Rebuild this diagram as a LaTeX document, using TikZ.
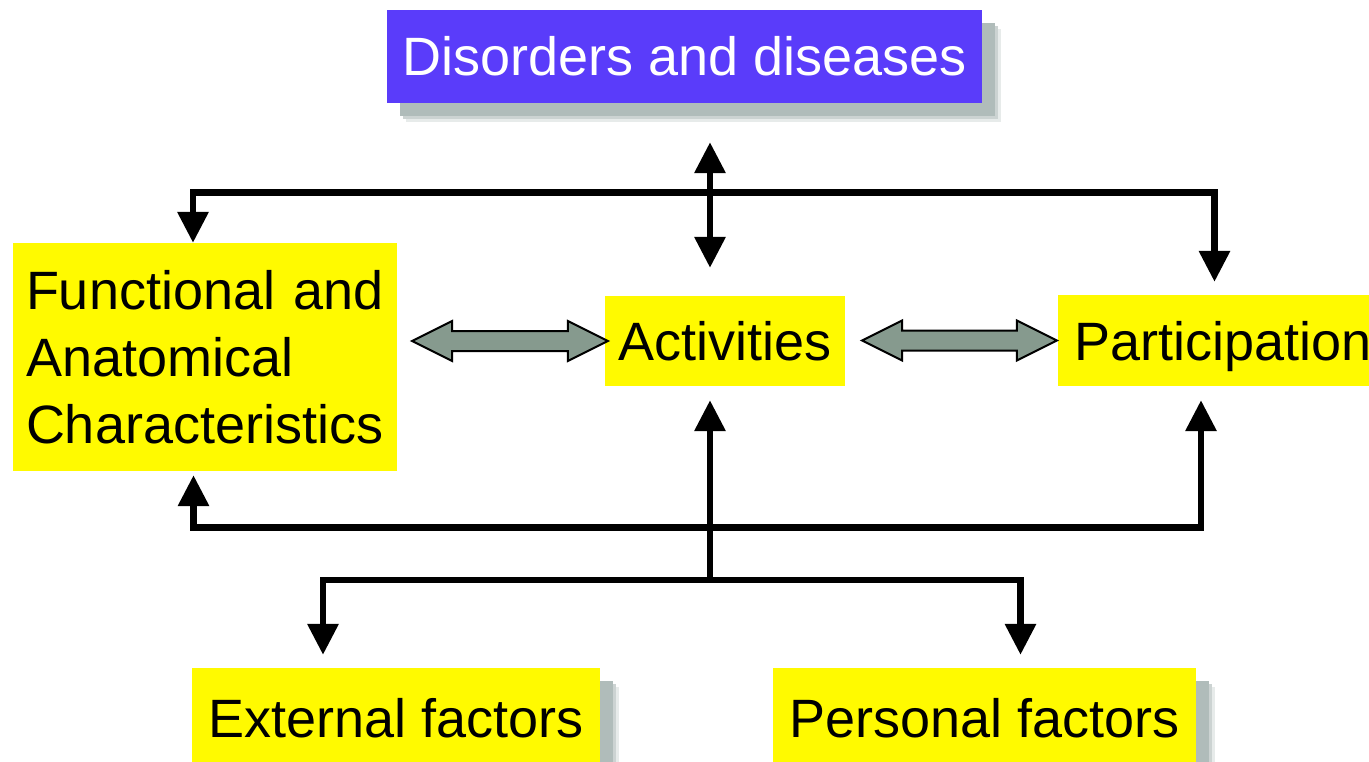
\documentclass[tikz,border=0pt]{standalone}
\usepackage{fontspec}
\setmainfont{Liberation Sans}
\usepackage{tikz}
\usetikzlibrary{arrows.meta, positioning, calc, shadows}
\usepackage{xcolor}
\definecolor{disorderblue}{RGB}{90,60,250}
\definecolor{factoryellow}{RGB}{255,250,0}
\definecolor{linkgray}{RGB}{134,154,142}
\definecolor{shadowgray}{RGB}{176,188,186}
\tikzset{%
	every factor/.style={
		fill=factoryellow,
		inner sep=0pt,
		font=\fontsize{54}{67}\selectfont
	},
	one line/.style={
		text height=39pt,
		text depth=0pt
	},
	soft shadow/.style={
		drop shadow={shadow xshift=19pt, shadow yshift=-19pt, fill=shadowgray!30, opacity=1},
		drop shadow={shadow xshift=16pt, shadow yshift=-16pt, fill=shadowgray!65, opacity=1},
		drop shadow={shadow xshift=13pt, shadow yshift=-13pt, fill=shadowgray, opacity=1}
	},
	link arrow/.style={
		draw=black,
		line width=2pt,
		fill=linkgray
	},
	bus/.style={
		line width=6.5pt
	},
}
\newcommand{\linkarrow}[2]{%
	\draw[link arrow] let \p1=(#1), \p2=(#2) in
	(\x1,\y2) -- (\x1+40pt,\y2+20pt) -- (\x1+40pt,\y2+10pt) -- (\x2-40pt,\y2+10pt)
	-- (\x2-40pt,\y2+20pt) -- (\x2,\y2) -- (\x2-40pt,\y2-20pt) -- (\x2-40pt,\y2-10pt)
	-- (\x1+40pt,\y2-10pt) -- (\x1+40pt,\y2-20pt) -- cycle;}

\begin{document}
\begin{tikzpicture}[
			x=1pt, y=-1pt,
			>={Triangle[length=31pt, width=30pt]}
			]
			\useasboundingbox (0,0) rectangle (1369,762);
			\clip (0,0) rectangle (1369,762);
			
			% Nodes of the diagram
			\node[every factor, one line, soft shadow, fill=disorderblue, text=white,
				minimum width=595pt, minimum height=93pt] (dis) at (684.5,56.5) {Disorders and diseases};
			\node[every factor, minimum width=384pt, minimum height=228pt,
				text width=358pt, align=left] (func) at (205,357) {Functional and\\Anatomical\\Characteristics};
			\node[every factor, one line, minimum width=240pt, minimum height=90pt] (act) at (725,341) {Activities};
			\node[every factor, one line, minimum width=330pt, minimum height=91pt] (part) at (1223,340.5) {Participation};
			\node[every factor, one line, soft shadow, minimum width=408pt, minimum height=100pt] (ext) at (396,718) {External factors};
			\node[every factor, one line, soft shadow, minimum width=423pt, minimum height=100pt] (pers) at (984.5,718) {Personal factors};
			
			% Junction points
			\coordinate (topL) at (193,192.5);
			\coordinate (topR) at (1214.5,192.5);
			\coordinate (botL) at (193.5,527.5);
			\coordinate (botR) at (1201,527.5);
			\coordinate (axis) at (710,580);
			\coordinate (extX) at (323,580);
			\coordinate (persX) at (1020.5,580);
			
			% Connectors
			\draw[bus, <->, shorten >=13pt] (func.north -| topL) |- (topR) -- (part.north -| topR);
			\draw[bus, <->, shorten <=39pt, shorten >=28pt] (dis.south -| axis) -- (act.north -| axis);
			\draw[bus, <->, shorten <=4pt, shorten >=14pt] (func.south -| botL) |- (botR) -- (part.south -| botR);
			\draw[bus, ->, shorten >=14pt] (axis) -- (act.south -| axis);
			\draw[bus, <->, shorten <=13pt, shorten >=13pt] (ext.north -| extX) |- (persX) -- (pers.north -| persX);
			
			\linkarrow{[xshift=15pt]func.east}{[xshift=3pt]act.west}
			\linkarrow{[xshift=17pt]act.east}{[xshift=-1pt]part.west}
			
		\end{tikzpicture}
\end{document}
